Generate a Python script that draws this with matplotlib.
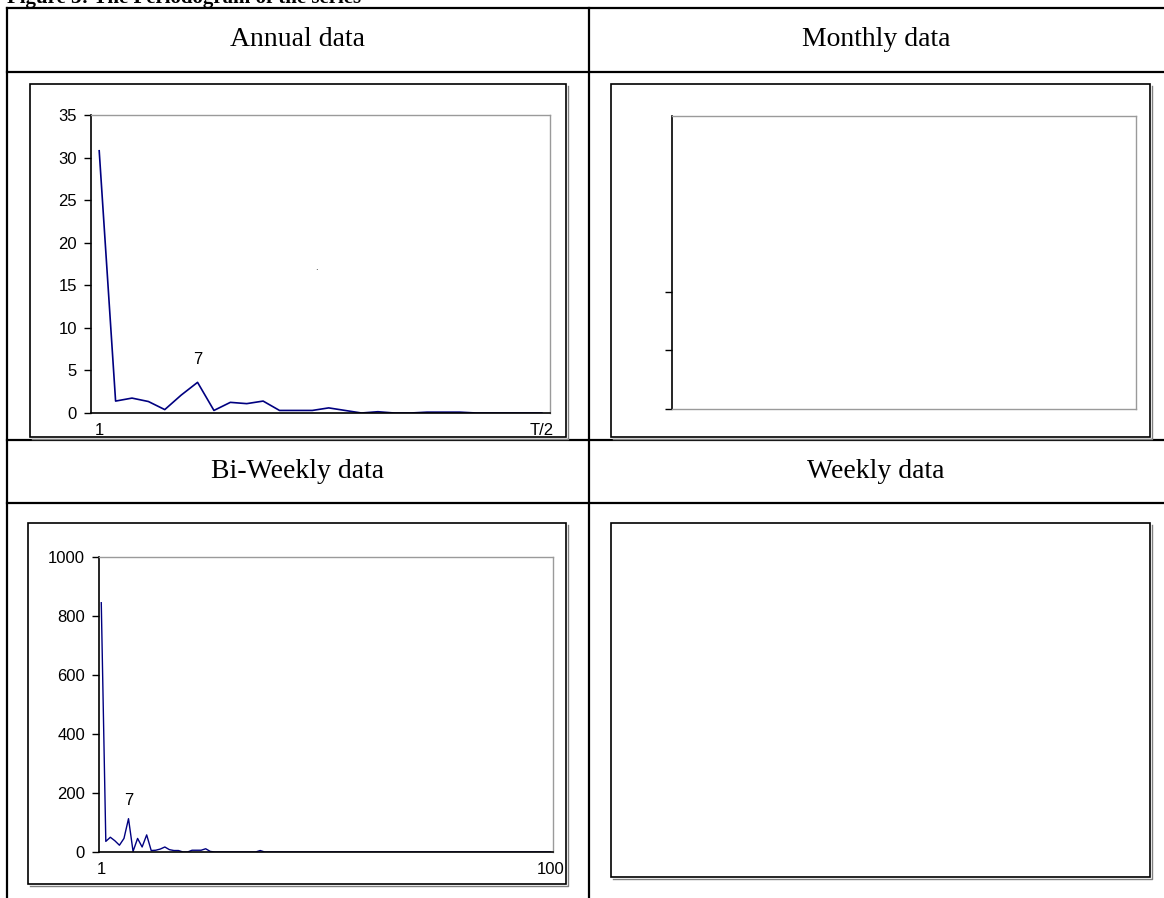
import matplotlib
matplotlib.use('Agg')
import matplotlib.pyplot as plt
from matplotlib.patches import Rectangle
from matplotlib.lines import Line2D

# ---------------- data ----------------
annual_values = [30.8, 1.4, 1.75, 1.35, 0.4, 2.1, 3.6, 0.3, 1.25, 1.1,
                 1.4, 0.3, 0.3, 0.3, 0.6, 0.3, 0.0, 0.15, 0.0, 0.0,
                 0.1, 0.1, 0.1, 0.0, 0.0, 0.0, 0.0, 0.0]
annual_xticklabels = ['1', 'T/2']
annual_yticks = [0, 5, 10, 15, 20, 25, 30, 35]

biweekly_values = [845, 36, 50, 38, 23, 46, 113, 2, 46, 17,
                   58, 5, 6, 10, 17, 8, 5, 5, 0, 0,
                   6, 6, 6, 11, 2, 0, 0, 0, 0, 0,
                   0, 0, 0, 0, 0, 5, 0, 0, 0, 0,
                   0, 0, 0, 0, 0, 0, 0, 0, 0, 0,
                   0, 0, 0, 0, 0, 0, 0, 0, 0, 0,
                   0, 0, 0, 0, 0, 0, 0, 0, 0, 0,
                   0, 0, 0, 0, 0, 0, 0, 0, 0, 0,
                   0, 0, 0, 0, 0, 0, 0, 0, 0, 0,
                   0, 0, 0, 0, 0, 0, 0, 0, 0, 0]
biweekly_xticklabels = ['1', '100']
biweekly_yticks = [0, 200, 400, 600, 800, 1000]

monthly_yticks = [0, 1, 2]

panel_titles = ['Annual data', 'Monthly data', 'Bi-Weekly data', 'Weekly data']
figure_title = 'Figure 3: The Periodogram of the series'
peak_label = '7'

# ---------------- layout helpers ----------------
W, H, DPI = 1164, 898, 100
fig = plt.figure(figsize=(W / DPI, H / DPI), dpi=DPI)
fig.patch.set_facecolor('white')

SANS = ['Liberation Sans', 'DejaVu Sans']
SERIF = ['Liberation Serif', 'DejaVu Serif']
LINE_COLOR = '#000080'
TICK_FS = 12


def fx(x):
    return x / W


def fy(y):
    return 1 - y / H


def hline(y, x0, x1, lw=1.6, color='black'):
    fig.add_artist(Line2D([fx(x0), fx(x1)], [fy(y), fy(y)], lw=lw, color=color,
                          transform=fig.transFigure))


def vline(x, y0, y1, lw=1.6, color='black'):
    fig.add_artist(Line2D([fx(x), fx(x)], [fy(y0), fy(y1)], lw=lw, color=color,
                          transform=fig.transFigure))


def frame(l, t, r, b):
    # light shadow on right/bottom, then black border
    fig.add_artist(Line2D([fx(l + 1.5), fx(r + 1.5), fx(r + 1.5)],
                          [fy(b + 1.5), fy(b + 1.5), fy(t + 1.5)],
                          lw=1.0, color='#808080', transform=fig.transFigure))
    fig.add_artist(Rectangle((fx(l), fy(b)), fx(r - l), (b - t) / H, fill=False,
                             lw=1.2, edgecolor='black', transform=fig.transFigure))


def px_axes(l, t, r, b):
    return fig.add_axes([fx(l), fy(b), fx(r - l), (b - t) / H])


def style_axes(ax, bottom_black=True):
    for s in ['top', 'right']:
        ax.spines[s].set_color('#9a9a9a')
        ax.spines[s].set_linewidth(1.0)
    ax.spines['left'].set_color('black')
    ax.spines['left'].set_linewidth(1.2)
    ax.spines['bottom'].set_color('black' if bottom_black else '#9a9a9a')
    ax.spines['bottom'].set_linewidth(1.2 if bottom_black else 1.0)
    ax.tick_params(axis='y', direction='out', length=5, width=1, color='black',
                   labelsize=TICK_FS, pad=5)
    ax.tick_params(axis='x', length=0, labelsize=TICK_FS, pad=7)
    for lab in ax.get_xticklabels() + ax.get_yticklabels():
        lab.set_fontfamily(SANS)


# ---------------- title (cut off at top, as in the scanned page) ----------------
fig.text(fx(7), fy(3), figure_title, fontsize=15, fontweight='bold',
         family=SERIF, ha='left', va='baseline')

# ---------------- table grid ----------------
for y in [8, 72, 440, 503]:
    hline(y, 7, W)
for x in [7, 589]:
    vline(x, 8, H)

# header texts
for (cx, cy), t in zip([(298, 40), (876, 40), (298, 472), (876, 472)], panel_titles):
    fig.text(fx(cx), fy(cy), t, family=SERIF, fontsize=20, ha='center', va='center')

# ---------------- Annual ----------------
frame(30, 84, 566, 437)
ax1 = px_axes(91, 115, 550, 413)
xa = list(range(1, len(annual_values) + 1))
ax1.plot(xa, annual_values, color=LINE_COLOR, lw=1.2)
ax1.set_xlim(0.5, len(annual_values) + 0.5)
ax1.set_ylim(0, 35)
ax1.set_yticks(annual_yticks)
ax1.set_xticks([xa[0], xa[-1]])
ax1.set_xticklabels(annual_xticklabels)
style_axes(ax1)
ax1.annotate(peak_label, xy=(7, annual_values[6]), xytext=(0, 11),
             textcoords='offset points', ha='center', va='bottom',
             fontsize=TICK_FS, family=SANS)
fig.text(fx(316), fy(272), '.', fontsize=6, ha='center', va='bottom')

# ---------------- Monthly ----------------
frame(611, 84, 1150, 437)
ax2 = px_axes(672, 116, 1136, 409)
ax2.set_ylim(0, 5)
ax2.set_xlim(0, 1)
ax2.set_yticks(monthly_yticks)
ax2.set_yticklabels([])
ax2.set_xticks([])
style_axes(ax2, bottom_black=False)
ax2.tick_params(axis='y', length=5)

# ---------------- Bi-Weekly ----------------
frame(28, 523, 566, 884)
ax3 = px_axes(99, 557, 553, 852)
xb = list(range(1, len(biweekly_values) + 1))
ax3.plot(xb, biweekly_values, color=LINE_COLOR, lw=1.0)
ax3.set_xlim(0.5, len(biweekly_values) + 0.5)
ax3.set_ylim(0, 1000)
ax3.set_yticks(biweekly_yticks)
ax3.set_xticks([xb[0], xb[-1]])
ax3.set_xticklabels(biweekly_xticklabels)
style_axes(ax3)
ax3.annotate(peak_label, xy=(7, biweekly_values[6]), xytext=(0, 8),
             textcoords='offset points', ha='center', va='bottom',
             fontsize=TICK_FS, family=SANS)

# ---------------- Weekly ----------------
frame(611, 523, 1150, 877)

fig.savefig('out.png', dpi=DPI, facecolor='white')
